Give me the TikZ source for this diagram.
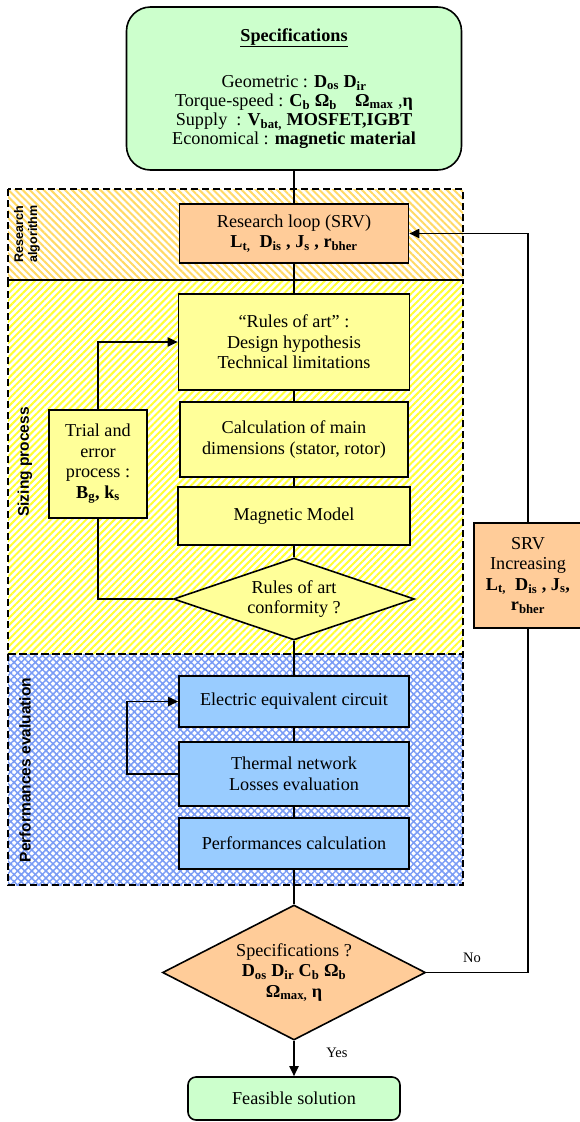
\documentclass[tikz,border=0pt]{standalone}
\usepackage{fontspec}
\setmainfont{Liberation Serif}
\newfontfamily\lblfont{Liberation Sans}
\usetikzlibrary{shapes.geometric,arrows.meta,patterns.meta}
\definecolor{cgreen}{HTML}{CCFFCC}
\definecolor{corange}{HTML}{FFCC99}
\definecolor{cyellow}{HTML}{FFFF99}
\definecolor{cblue}{HTML}{99CCFF}
\definecolor{hatchor}{HTML}{FFD966}
\definecolor{hatchye}{HTML}{FFFF33}
\definecolor{hatchbl}{HTML}{7A9CF5}
\newcommand\bs[2]{\textbf{#1\textsubscript{#2}}}
\begin{document}
\begin{tikzpicture}[x=1pt,y=-1pt,
  font=\fontsize{18.2}{20.5}\selectfont,
  box/.style={draw,line width=1.6pt,align=center,inner sep=0pt},
  ybox/.style={box,fill=cyellow},
  bbox/.style={box,fill=cblue},
  obox/.style={box,fill=corange},
  gbox/.style={box,fill=cgreen},
  dbox/.style={box,diamond},
  conn/.style={line width=1.8pt},
  arr/.style={conn,-{Triangle[length=10pt,width=9pt]}},
  region/.style={line width=1.8pt,dash pattern=on 7pt off 4pt},
  lbl/.style={rotate=90,font=\lblfont\bfseries\fontsize{15.5}{18}\selectfont},
  small/.style={font=\fontsize{14.5}{16}\selectfont}]
\useasboundingbox (0,0) rectangle (579,1122);
% regions
\path[fill=white,pattern={Lines[angle=-45,distance=5pt,line width=2pt]},pattern color=hatchor] (8,189) rectangle (463,280);
\path[fill=white,pattern={Lines[angle=45,distance=5pt,line width=2pt]},pattern color=hatchye] (8,280) rectangle (463,654);
\path[fill=white,pattern={Hatch[angle=45,distance=5pt,line width=1.5pt]},pattern color=hatchbl] (8,654) rectangle (463,885);
\draw[region] (8,189) rectangle (463,280);
\draw[region] (8,280) rectangle (463,654);
\draw[region] (8,654) rectangle (463,885);
\node[lbl,align=center,font=\lblfont\bfseries\fontsize{12.5}{14}\selectfont] (lra) at (27,234) {Research\\algorithm};
\node[lbl] (lsz) at (25,462) {Sizing process};
\node[lbl] (lpe) at (25,770) {Performances evaluation};
% nodes
\node[gbox,rounded corners=24pt,minimum width=335pt,minimum height=163pt,font=\fontsize{18.2}{19}\selectfont] (spec) at (294,88.5)
 {\underline{\textbf{Specifications}}\\[27pt]
  Geometric : \bs{D}{os} \bs{D}{ir}\\
  Torque-speed : \bs{C}{b} \bs{Ω}{b}\quad \bs{Ω}{max} ,\textbf{η}\\
  Supply\ \ : \bs{V}{bat,} \textbf{MOSFET,IGBT}\\
  Economical : \textbf{magnetic material}};
\node[obox,minimum width=229pt,minimum height=59pt] (rl) at (294,233.5)
 {Research loop (SRV)\\ \bs{L}{t,}\ \ \bs{D}{is} \textbf{,} \bs{J}{s} \textbf{,} \bs{r}{bher}};
\node[ybox,minimum width=231pt,minimum height=96pt] (rules) at (294,342)
 {“Rules of art” :\\Design hypothesis\\Technical limitations};
\node[ybox,minimum width=228pt,minimum height=75pt] (calc) at (294,439.5)
 {Calculation of main\\dimensions (stator, rotor)};
\node[ybox,minimum width=232pt,minimum height=58pt] (mag) at (294,516) {Magnetic Model};
\node[dbox,fill=cyellow,aspect=2.94,minimum width=241pt,minimum height=82pt] (dia1) at (294,599)
 {Rules of art\\conformity ?};
\node[ybox,minimum width=98pt,minimum height=108pt] (trial) at (98,464)
 {Trial and\\error\\process :\\\bs{B}{g}\textbf{,} \bs{k}{s}};
\node[bbox,minimum width=230pt,minimum height=51pt] (elec) at (294,701.5) {Electric equivalent circuit};
\node[bbox,minimum width=230pt,minimum height=64pt] (therm) at (294,774) {Thermal network\\Losses evaluation};
\node[bbox,minimum width=230pt,minimum height=51pt] (perf) at (294,843.5) {Performances calculation};
\node[dbox,fill=corange,aspect=1.95,minimum width=263pt,minimum height=135pt] (dia2) at (294,972.5)
 {Specifications ?\\\bs{D}{os} \bs{D}{ir} \bs{C}{b} \bs{Ω}{b}\\\bs{Ω}{max,} \textbf{η}};
\node[obox,minimum width=108pt,minimum height=105pt] (srv) at (528,575.5)
 {SRV\\Increasing\\\bs{L}{t,}\ \ \bs{D}{is} \textbf{,} \bs{J}{s}\textbf{,}\\\bs{r}{bher}};
\node[gbox,rounded corners=8pt,minimum width=212pt,minimum height=43pt] (feas) at (294,1098.5) {Feasible solution};
% connectors
\draw[conn] (spec.south) -- (rl.north);
\draw[conn] (rl.south) -- (rules.north);
\draw[conn] (rules.south) -- (calc.north);
\draw[conn] (calc.south) -- (mag.north);
\draw[conn] (mag.south) -- (dia1.north);
\draw[conn] (dia1.south) -- (elec.north);
\draw[conn] (elec.south) -- (therm.north);
\draw[conn] (therm.south) -- (perf.north);
\draw[conn] (perf.south) -- (dia2.north);
\draw[arr] (dia2.south) -- (feas.north);
\draw[conn] (dia1.west) -| (trial.south);
\draw[arr] (trial.north) |- (rules.west);
\draw[arr] (therm.west) -- ++(-51,0) |- (elec.west);
\draw[conn] (dia2.east) -| (srv.south);
\draw[arr] (srv.north) |- (rl.east);
\node[small] (no) at (472,958) {No};
\node[small] (yes) at (337,1053) {Yes};
\end{tikzpicture}
\end{document}
